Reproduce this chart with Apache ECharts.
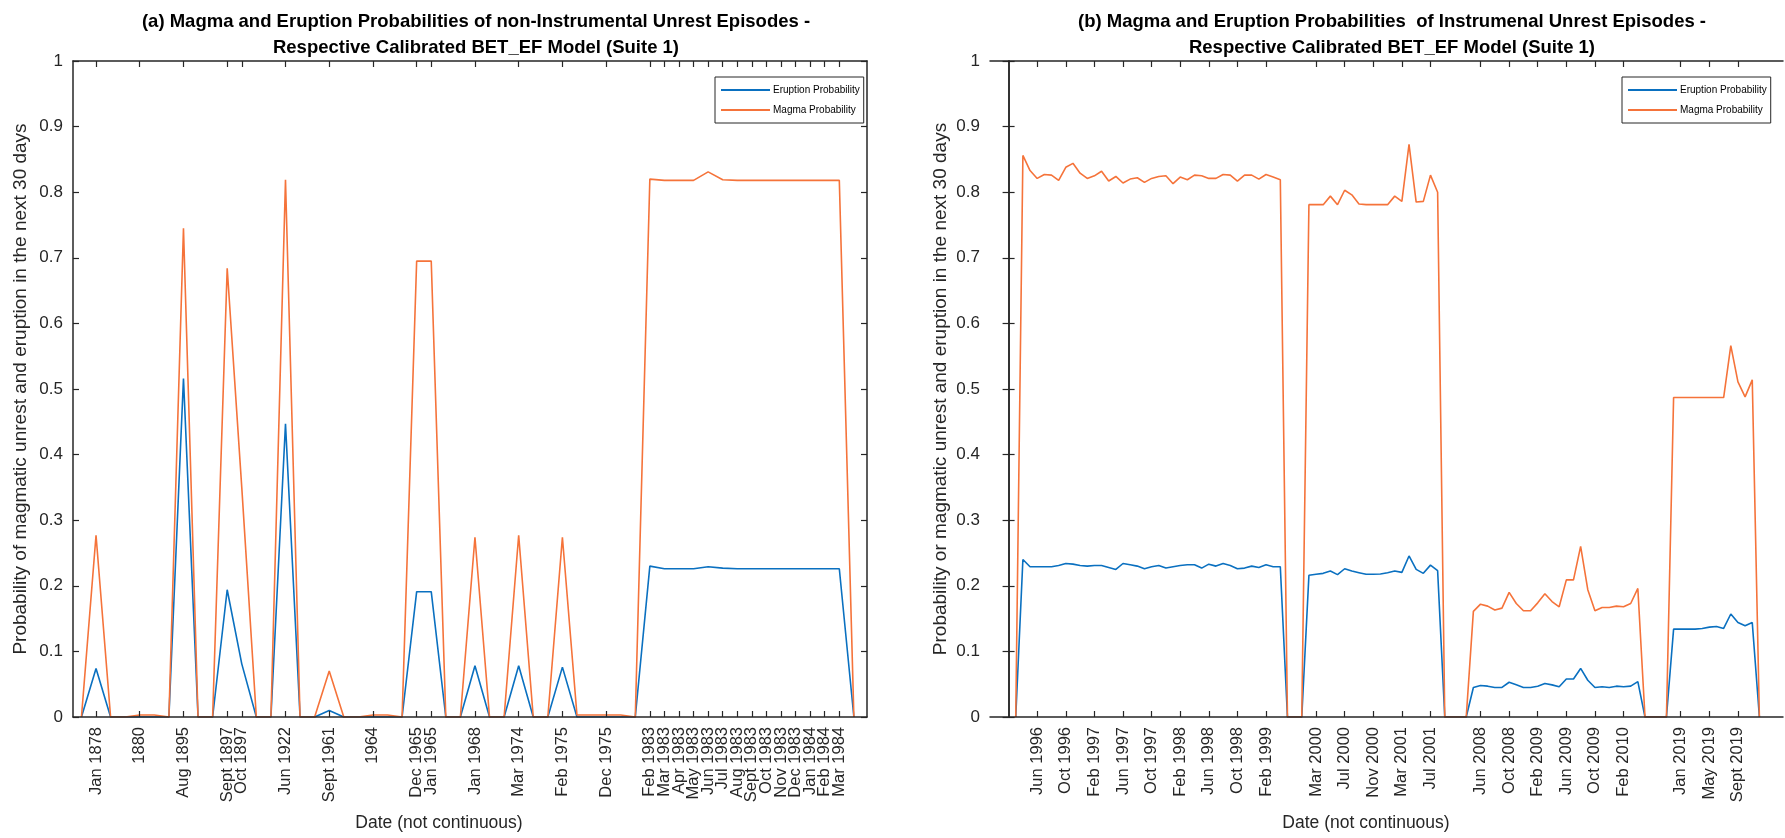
<!DOCTYPE html>
<html><head><meta charset="utf-8">
<script src="https://cdn.jsdelivr.net/npm/echarts@6/dist/echarts.min.js"></script>
<style>html,body{margin:0;padding:0;background:#fff}#c{width:1785px;height:838px}</style>
</head><body><div id="c"></div>
<script>
// ---------- Panel (a): non-instrumental episodes (index 1..54) ----------
const leftMagma = [
  0, 0.277, 0, 0, 0.003, 0.003, 0, 0.745, 0, 0,
  0.684, 0.35, 0, 0, 0.819, 0, 0, 0.07, 0, 0,
  0.003, 0.003, 0, 0.695, 0.695, 0, 0, 0.274, 0, 0,
  0.277, 0, 0, 0.274, 0.003, 0.003, 0.003, 0.003, 0, 0.820,
  0.818, 0.818, 0.818, 0.831, 0.819, 0.818, 0.818, 0.818, 0.818, 0.818,
  0.818, 0.818, 0.818, 0
];
const leftEruption = [
  0, 0.074, 0, 0, 0, 0, 0, 0.516, 0, 0,
  0.194, 0.081, 0, 0, 0.447, 0, 0, 0.01, 0, 0,
  0, 0, 0, 0.191, 0.191, 0, 0, 0.078, 0, 0,
  0.078, 0, 0, 0.076, 0, 0, 0, 0, 0, 0.230,
  0.226, 0.226, 0.226, 0.229, 0.227, 0.226, 0.226, 0.226, 0.226, 0.226,
  0.226, 0.226, 0.226, 0
];
const leftTickIdx = [2,5,8,11,12,15,18,21,24,25,28,31,34,37,40,41,42,43,44,45,46,47,48,49,50,51,52,53];
const leftTickLabels = ['Jan 1878','1880','Aug 1895','Sept 1897','Oct 1897','Jun 1922','Sept 1961','1964',
  'Dec 1965','Jan 1965','Jan 1968','Mar 1974','Feb 1975','Dec 1975',
  'Feb 1983','Mar 1983','Apr 1983','May 1983','Jun 1983','Jul 1983','Aug 1983','Sept 1983',
  'Oct 1983','Nov 1983','Dec 1983','Jan 1984','Feb 1984','Mar 1984'];

// ---------- Panel (b): instrumental episodes (index 1..105) ----------
const rightMagma = [
  0,
  0.856, 0.833, 0.821, 0.827, 0.826, 0.818, 0.838, 0.844, 0.829, 0.821,
  0.825, 0.832, 0.817, 0.824, 0.814, 0.820, 0.822, 0.815, 0.821, 0.824,
  0.825, 0.813, 0.823, 0.819, 0.826, 0.825, 0.821, 0.821, 0.827, 0.826,
  0.817, 0.826, 0.826, 0.820, 0.827, 0.823, 0.819,
  0, 0, 0,
  0.781, 0.781, 0.781, 0.794, 0.781, 0.803, 0.796, 0.782, 0.781, 0.781,
  0.781, 0.781, 0.794, 0.786, 0.873, 0.785, 0.786, 0.826, 0.800,
  0, 0, 0, 0,
  0.161, 0.172, 0.169, 0.163, 0.166, 0.190, 0.173, 0.162, 0.162, 0.174,
  0.188, 0.176, 0.168, 0.209, 0.209, 0.260, 0.194, 0.162, 0.167, 0.167,
  0.169, 0.168, 0.173, 0.196,
  0, 0, 0, 0,
  0.487, 0.487, 0.487, 0.487, 0.487, 0.487, 0.487, 0.487, 0.566, 0.511,
  0.488, 0.514,
  0
];
const rightEruption = [
  0,
  0.240, 0.229, 0.229, 0.229, 0.229, 0.231, 0.234, 0.233, 0.231, 0.230,
  0.231, 0.231, 0.228, 0.225, 0.234, 0.232, 0.230, 0.226, 0.229, 0.231,
  0.227, 0.229, 0.231, 0.232, 0.232, 0.227, 0.233, 0.230, 0.234, 0.231,
  0.226, 0.227, 0.230, 0.228, 0.232, 0.229, 0.229,
  0, 0, 0,
  0.216, 0.2175, 0.219, 0.2225, 0.217, 0.226, 0.2225, 0.220, 0.2175, 0.2175,
  0.218, 0.220, 0.2225, 0.2205, 0.2455, 0.225, 0.219, 0.2315, 0.223,
  0, 0, 0, 0,
  0.045, 0.048, 0.047, 0.045, 0.045, 0.053, 0.049, 0.045, 0.045, 0.047,
  0.051, 0.049, 0.046, 0.058, 0.058, 0.074, 0.056, 0.045, 0.046, 0.045,
  0.047, 0.046, 0.047, 0.054,
  0, 0, 0, 0,
  0.134, 0.134, 0.134, 0.134, 0.135, 0.137, 0.138, 0.135, 0.157, 0.144,
  0.139, 0.144,
  0
];
const rightTickIdx = [4,8,12,16,20,24,28,32,36,43,47,51,55,59,66,70,74,78,82,86,94,98,102];
const rightTickLabels = ['Jun 1996','Oct 1996','Feb 1997','Jun 1997','Oct 1997','Feb 1998','Jun 1998','Oct 1998','Feb 1999',
  'Mar 2000','Jul 2000','Nov 2000','Mar 2001','Jul 2001',
  'Jun 2008','Oct 2008','Feb 2009','Jun 2009','Oct 2009','Feb 2010',
  'Jan 2019','May 2019','Sept 2019'];

const seriesNames = ['Eruption Probability', 'Magma Probability'];
const titleA = ['(a) Magma and Eruption Probabilities of non-Instrumental Unrest Episodes -', 'Respective Calibrated BET_EF Model (Suite 1)'];
const titleB = ['(b) Magma and Eruption Probabilities  of Instrumenal Unrest Episodes -', 'Respective Calibrated BET_EF Model (Suite 1)'];
const yNameA = 'Probability of magmatic unrest and eruption in the next 30 days';
const yNameB = 'Probability or magmatic unrest and eruption in the next 30 days';
const xName = 'Date (not continuous)';

const AX = '#262626';
const BLUE = '#0A70C0';
const ORANGE = '#F5733A';
const FONT = 'Liberation Sans';

function xAxisDef(gi, min, max, idx, labels, pos) {
  // an empty label slot at the axis max keeps ECharts' min/max overlap check from hiding real labels
  const labelSlots = idx.concat([max]);
  return {
    type: 'value', gridIndex: gi, min: min, max: max, position: pos, z: 10,
    axisLine: { show: true, onZero: false, lineStyle: { color: AX, width: 1.5 } },
    axisTick: { show: true, inside: true, length: 6, customValues: idx, lineStyle: { color: AX, width: 1.2 } },
    axisLabel: {
      show: pos === 'bottom', customValues: labelSlots, rotate: 90, margin: 10, fontSize: 16.5, lineHeight: 12,
      color: AX, fontFamily: FONT, showMinLabel: true, showMaxLabel: true, hideOverlap: false,
      formatter: function (v) { const k = idx.indexOf(v); return k >= 0 ? labels[k] : ''; }
    },
    splitLine: { show: false }
  };
}
function yAxisDef(gi, pos, name, gap) {
  return {
    type: 'value', gridIndex: gi, min: 0, max: 1, interval: 0.1, position: pos, z: 10,
    axisLine: { show: true, lineStyle: { color: AX, width: 1.5 } },
    axisTick: { show: true, inside: true, length: 6, lineStyle: { color: AX, width: 1.2 } },
    axisLabel: { show: pos === 'left', margin: 10, fontSize: 17, color: AX, fontFamily: FONT },
    splitLine: { show: false },
    name: pos === 'left' ? name : '', nameLocation: 'middle', nameGap: gap,
    nameTextStyle: { fontSize: 19, color: AX, fontFamily: FONT }
  };
}
function lineSeries(name, arr, xi, yi, color) {
  return {
    type: 'line', name: name, xAxisIndex: xi, yAxisIndex: yi,
    data: arr.map(function (v, i) { return [i + 1, v]; }),
    showSymbol: false, symbol: 'none', lineStyle: { color: color, width: 1.6 },
    itemStyle: { color: color }, z: 2
  };
}
function legendDef(left) {
  return {
    left: left, top: 77, orient: 'vertical', selectedMode: false,
    borderColor: AX, borderWidth: 1, padding: [8, 4, 8, 6], itemGap: 10,
    icon: 'rect', itemWidth: 49, itemHeight: 1.8, backgroundColor: '#fff',
    textStyle: { fontSize: 10, color: '#000', fontFamily: FONT, padding: [0, 0, 0, -2] },
    data: seriesNames
  };
}
function txt(x, y, s, size, bold) {
  return { type: 'text', x: x, y: y, z: 100,
    style: { text: s, fontSize: size, fontWeight: bold ? 'bold' : 'normal', fontFamily: FONT,
      fill: bold ? '#000' : AX, align: 'center', verticalAlign: 'middle' } };
}

const chart = echarts.init(document.getElementById('c'), null, { renderer: 'canvas' });
chart.setOption({
  animation: false,
  backgroundColor: '#fff',
  textStyle: { fontFamily: FONT },
  grid: [
    { left: 73, top: 61, width: 794, height: 656 },
    { left: 990, top: 61, width: 793, height: 656 }
  ],
  xAxis: [
    xAxisDef(0, 0.42, 54.9, leftTickIdx, leftTickLabels, 'bottom'),
    xAxisDef(0, 0.42, 54.9, leftTickIdx, leftTickLabels, 'top'),
    xAxisDef(1, -2.6, 108.3, rightTickIdx, rightTickLabels, 'bottom'),
    xAxisDef(1, -2.6, 108.3, rightTickIdx, rightTickLabels, 'top')
  ],
  yAxis: [
    yAxisDef(0, 'left', yNameA, 43),
    yAxisDef(0, 'right', '', 0),
    yAxisDef(1, 'left', yNameB, 40),
    yAxisDef(1, 'right', '', 0)
  ],
  legend: [legendDef(715), legendDef(1622)],
  series: [
    lineSeries(seriesNames[0], leftEruption, 0, 0, BLUE),
    lineSeries(seriesNames[1], leftMagma, 0, 0, ORANGE),
    lineSeries(seriesNames[0], rightEruption, 2, 2, BLUE),
    lineSeries(seriesNames[1], rightMagma, 2, 2, ORANGE)
  ],
  graphic: [
    txt(476, 22, titleA[0], 18.5, true),
    txt(476, 48, titleA[1], 18.5, true),
    txt(1392, 22, titleB[0], 18.5, true),
    txt(1392, 48, titleB[1], 18.5, true),
    txt(439, 823, xName, 17.5, false),
    txt(1366, 823, xName, 17.5, false)
  ]
});
</script></body></html>
